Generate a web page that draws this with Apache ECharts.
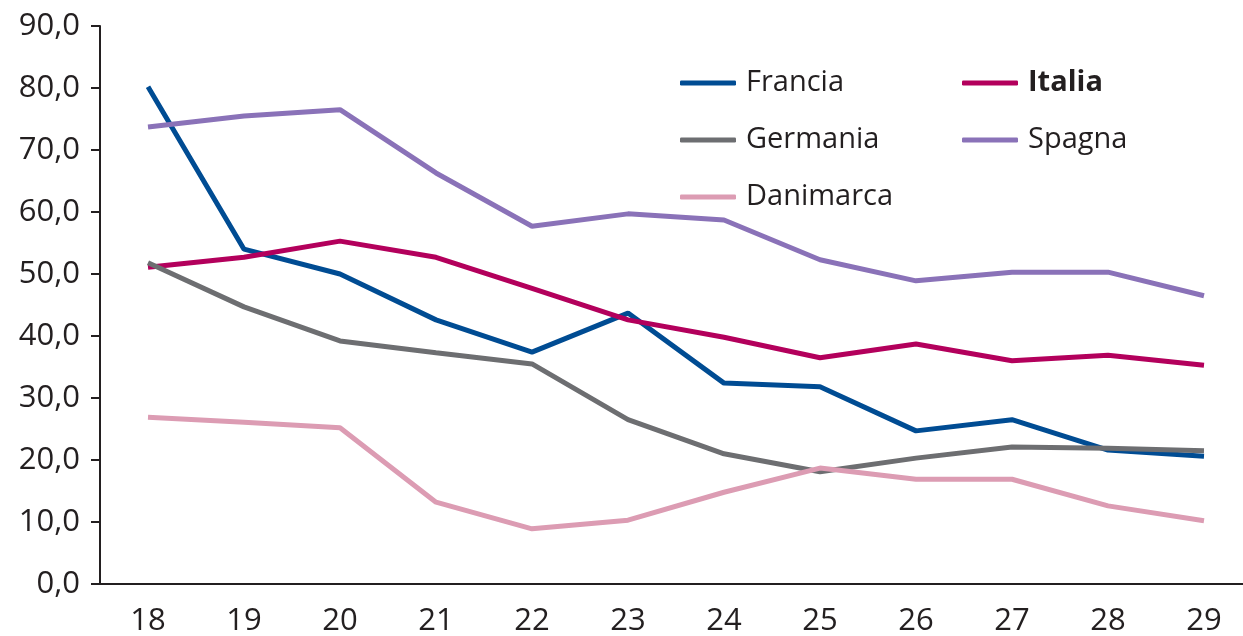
<!DOCTYPE html>
<html>
<head>
<meta charset="utf-8">
<script src="https://cdn.jsdelivr.net/npm/echarts@6/dist/echarts.min.js"></script>
<style>
  html, body { margin: 0; padding: 0; background: #fff; }
  #chart { width: 1243px; height: 636px; }
</style>
</head>
<body>
<div id="chart"></div>
<script>
// dati
var anni = ['18', '19', '20', '21', '22', '23', '24', '25', '26', '27', '28', '29'];
var francia   = [80.2, 54.0, 50.0, 42.6, 37.4, 43.7, 32.4, 31.8, 24.7, 26.5, 21.6, 20.6];
var italia    = [51.1, 52.7, 55.3, 52.7, 47.7, 42.6, 39.8, 36.5, 38.7, 36.0, 36.9, 35.3];
var germania  = [51.8, 44.7, 39.2, 37.3, 35.5, 26.5, 21.0, 18.1, 20.3, 22.1, 21.9, 21.5];
var spagna    = [73.7, 75.5, 76.5, 66.3, 57.7, 59.7, 58.7, 52.3, 48.9, 50.3, 50.3, 46.5];
var danimarca = [26.9, 26.1, 25.2, 13.2, 8.9, 10.3, 14.8, 18.7, 16.9, 16.9, 12.6, 10.2];

var font = 'Open Sans';
var testo = '#231f20';

function linea(nome, dati, colore) {
    return {
        name: nome,
        type: 'line',
        data: dati,
        symbol: 'none',
        lineStyle: { color: colore, width: 5 },
        itemStyle: { color: colore }
    };
}

var myChart = echarts.init(document.getElementById('chart'));
var legendaBase = {
    orient: 'vertical',
    icon: 'roundRect',
    itemWidth: 56,
    itemHeight: 5,
    itemGap: 23,
    padding: 0,
    textStyle: {
        fontFamily: font,
        fontSize: 29,
        color: testo,
        lineHeight: 34,
        padding: [0, 0, 0, 5],
        rich: { b: { fontWeight: 'bold', fontSize: 29, fontFamily: font, color: testo } }
    },
    formatter: function (n) { return n === 'Italia' ? '{b|' + n + '}' : n; }
};

var option = {
    animation: false,
    grid: { left: 100, top: 26, width: 1152, height: 558, outerBoundsMode: 'none' },
    legend: [
        Object.assign({}, legendaBase, { left: 680, top: 66, data: ['Francia', 'Germania', 'Danimarca'] }),
        Object.assign({}, legendaBase, { left: 962, top: 66, data: ['Italia', 'Spagna'] })
    ],
    xAxis: {
        type: 'category',
        data: anni,
        boundaryGap: true,
        axisLine: { lineStyle: { color: testo, width: 2 } },
        axisTick: { length: 9, lineStyle: { color: testo, width: 2 } },
        axisLabel: { fontFamily: font, fontSize: 31, color: testo, margin: 22 }
    },
    yAxis: {
        type: 'value',
        min: 0,
        max: 90,
        interval: 10,
        axisLine: { show: true, lineStyle: { color: testo, width: 2 } },
        axisTick: { show: true, length: 9, lineStyle: { color: testo, width: 2 } },
        splitLine: { show: false },
        axisLabel: {
            fontFamily: font, fontSize: 31, color: testo, margin: 20,
            formatter: function (v) { return v.toFixed(1).replace('.', ','); }
        }
    },
    series: [
        linea('Francia', francia, '#004c93'),
        linea('Italia', italia, '#b3005c'),
        linea('Germania', germania, '#6d6e71'),
        linea('Spagna', spagna, '#8a72b8'),
        linea('Danimarca', danimarca, '#dc9cb3')
    ]
};
myChart.setOption(option);
</script>
</body>
</html>
